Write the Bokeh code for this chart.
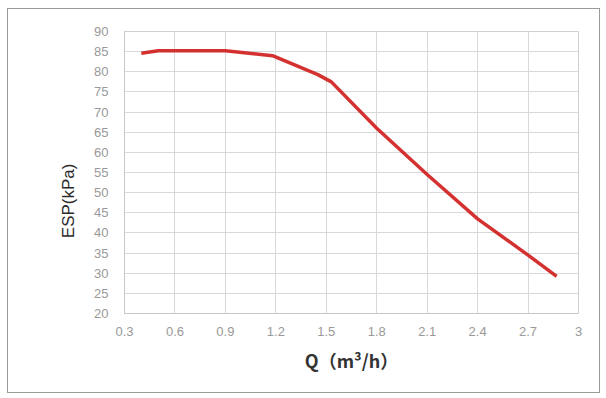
from bokeh.plotting import figure
from bokeh.models import FixedTicker, Range1d
from bokeh.embed import file_html
from bokeh.resources import INLINE

q = [0.4, 0.5, 0.9, 1.18, 1.45, 1.53, 1.8, 2.1, 2.4, 2.7, 2.87]
esp = [84.6, 85.2, 85.2, 84.0, 79.3, 77.5, 66.0, 54.5, 43.5, 34.5, 29.2]
x_ticks = [0.3, 0.6, 0.9, 1.2, 1.5, 1.8, 2.1, 2.4, 2.7, 3.0]
y_ticks = [20, 25, 30, 35, 40, 45, 50, 55, 60, 65, 70, 75, 80, 85, 90]
x_label = "Q（m³/h）"
y_label = "ESP(kPa)"

p = figure(width=593, height=385, output_backend="svg", toolbar_location=None,
           x_range=Range1d(0.3, 3.0), y_range=Range1d(20, 90),
           min_border_left=116, min_border_right=23, min_border_top=22, min_border_bottom=81)
p.margin = (8, 0, 0, 7)
p.styles = {"border": "1px solid #9a9a9a"}
p.outline_line_color = "#d0d0d0"
p.background_fill_color = "white"
p.border_fill_color = "white"

p.line(q, esp, line_color="#d02020", line_width=3.5, line_alpha=0.92)

for ax in (p.xaxis[0], p.yaxis[0]):
    ax.axis_line_color = "#c8c8c8"
    ax.major_tick_line_color = None
    ax.minor_tick_line_color = None
    ax.major_label_text_color = "#999999"
    ax.major_label_text_font = "Liberation Sans"
    ax.major_label_text_font_size = "13px"

p.xaxis.major_label_standoff = 7
p.yaxis.major_label_standoff = 10
p.xaxis.ticker = FixedTicker(ticks=x_ticks)
p.yaxis.ticker = FixedTicker(ticks=y_ticks)
p.xaxis.major_label_overrides = {3.0: "3"}
p.xaxis.axis_label = x_label
p.xaxis.axis_label_text_font = "Noto Sans CJK SC"
p.xaxis.axis_label_text_font_style = "bold"
p.xaxis.axis_label_text_font_size = "18px"
p.xaxis.axis_label_text_color = "#333333"
p.xaxis.axis_label_standoff = 8

# trailing no-break spaces push the vertical title slightly below the frame centre
p.yaxis.axis_label = y_label + "\u00a0" * 12
p.yaxis.axis_label_text_font = "Liberation Sans"
p.yaxis.axis_label_text_font_style = "normal"
p.yaxis.axis_label_text_font_size = "17px"
p.yaxis.axis_label_text_color = "#2a2a2a"
p.yaxis.axis_label_standoff = 13

p.xgrid.ticker = FixedTicker(ticks=x_ticks)
p.ygrid.ticker = FixedTicker(ticks=y_ticks)
p.grid.grid_line_color = "#d8d8d8"
p.grid.grid_line_width = 1

open("out.html", "w").write(file_html(p, INLINE))
